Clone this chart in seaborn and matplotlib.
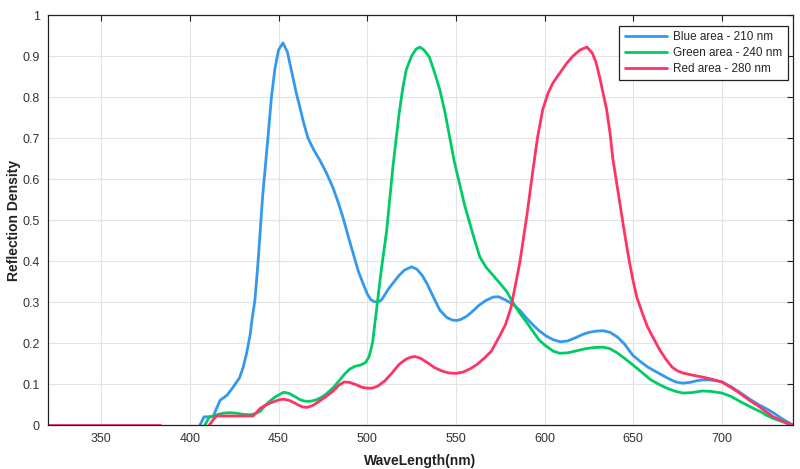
import numpy as np
import pandas as pd
import matplotlib
matplotlib.use("Agg")
import matplotlib.pyplot as plt
from matplotlib.ticker import FuncFormatter, MultipleLocator
import seaborn as sns

# ---------------- data ----------------
blue_wl = [405.7, 408, 413, 415, 417, 421, 424, 428, 430, 432, 434, 435, 436.7, 438.4, 441, 444, 446,
           448, 450, 452.5, 455, 458, 460, 462, 464, 466.6, 470, 473.3, 477, 480.6, 483.5, 486.3,
           489, 492, 495, 497.6, 500, 502, 504, 506, 508, 510, 512, 514.5, 518, 521, 525, 528, 531,
           533.6, 537, 541, 545, 548, 550.6, 553, 556, 559.6, 563, 567, 571, 574, 578, 582, 586,
           590, 594, 597, 601, 605, 609, 613, 617, 621, 625, 629, 633, 637, 641, 645, 649.8, 654,
           658, 662, 665, 670, 674, 678, 682, 686, 689, 693, 697, 700, 705, 710, 715, 721, 725,
           729, 733, 736, 738, 740]
blue_val = [0, 0.02, 0.02, 0.04, 0.06, 0.073, 0.09, 0.115, 0.14, 0.175, 0.22, 0.256, 0.305, 0.395,
            0.556, 0.70, 0.80, 0.87, 0.915, 0.932, 0.91, 0.85, 0.81, 0.776, 0.74, 0.70, 0.67, 0.646,
            0.615, 0.58, 0.545, 0.507, 0.465, 0.42, 0.375, 0.346, 0.32, 0.306, 0.301, 0.30, 0.305,
            0.318, 0.332, 0.346, 0.365, 0.378, 0.386, 0.38, 0.365, 0.346, 0.315, 0.28, 0.262, 0.256,
            0.255, 0.258, 0.265, 0.278, 0.292, 0.304, 0.312, 0.313, 0.305, 0.295, 0.28, 0.26, 0.242,
            0.23, 0.217, 0.208, 0.203, 0.205, 0.212, 0.22, 0.226, 0.229, 0.23, 0.226, 0.215, 0.198,
            0.17, 0.155, 0.142, 0.132, 0.125, 0.113, 0.105, 0.102, 0.104, 0.108, 0.11, 0.11, 0.108,
            0.105, 0.094, 0.08, 0.065, 0.049, 0.04, 0.03, 0.018, 0.01, 0.005, 0.0]

green_wl = [408.5, 411, 413, 416, 419, 422.6, 426, 430, 433.9, 437, 439.5, 442, 445, 448, 450.8, 453,
            456, 459, 462, 465, 468, 471, 474, 477, 481, 484, 487, 490, 493, 496, 499, 501, 503,
            505.5, 508, 511, 514.5, 518, 520, 522, 525, 527.5, 529.7, 532, 535, 538, 541, 544,
            546.6, 549, 552, 555, 558, 561, 563.5, 567, 571, 575, 578.8, 582, 586, 590, 594, 597,
            601, 605, 608.6, 613, 618, 623, 628, 633, 637, 641, 645, 650, 655, 660, 665, 670, 674,
            678, 683, 689, 694, 700, 705, 710, 714, 718, 722, 725, 729, 733, 736, 738, 740]
green_val = [0, 0.02, 0.022, 0.026, 0.029, 0.03, 0.029, 0.026, 0.025, 0.028, 0.033, 0.045, 0.058,
             0.068, 0.075, 0.08, 0.077, 0.07, 0.062, 0.058, 0.058, 0.061, 0.067, 0.076, 0.092,
             0.107, 0.123, 0.136, 0.143, 0.146, 0.152, 0.166, 0.2, 0.29, 0.38, 0.475, 0.63, 0.76,
             0.82, 0.866, 0.9, 0.917, 0.922, 0.915, 0.898, 0.86, 0.817, 0.76, 0.70, 0.645, 0.59,
             0.535, 0.49, 0.445, 0.41, 0.385, 0.365, 0.345, 0.325, 0.3, 0.273, 0.25, 0.225, 0.207,
             0.192, 0.18, 0.175, 0.176, 0.181, 0.186, 0.189, 0.19, 0.186, 0.176, 0.163, 0.146,
             0.128, 0.11, 0.098, 0.088, 0.082, 0.078, 0.079, 0.083, 0.082, 0.078, 0.07, 0.058,
             0.049, 0.04, 0.032, 0.024, 0.016, 0.01, 0.005, 0.002, 0]

red_base_wl = [320, 383]
red_base_val = [0, 0]
red_wl = [411, 413, 415, 420, 425, 430, 435.6, 437.5, 439.5, 442, 445, 448, 450.8, 453, 456, 459,
          461, 463.7, 466, 469, 472, 476, 480.6, 484, 487, 490, 494, 497, 500, 503, 506, 510, 514,
          518, 522, 525, 527, 530, 534, 538, 542, 546, 550, 554, 558, 562, 566, 570, 574.8, 578,
          581, 586, 590, 593.4, 596, 599, 602, 604.7, 608, 612.6, 616, 620, 623.9, 627, 629, 631,
          633, 635, 637, 638.5, 640.5, 642.5, 644.5, 646.4, 648, 649.8, 652, 655.4, 658, 661, 665,
          668.5, 672, 675, 678, 683, 689, 694, 700, 705, 710, 715, 721, 725, 729, 733, 736, 738, 740]
red_val = [0, 0.012, 0.022, 0.022, 0.022, 0.022, 0.022, 0.03, 0.04, 0.047, 0.053, 0.058, 0.062,
           0.063, 0.06, 0.054, 0.049, 0.044, 0.043, 0.047, 0.055, 0.067, 0.082, 0.097, 0.105,
           0.104, 0.098, 0.092, 0.09, 0.09, 0.095, 0.108, 0.127, 0.148, 0.161, 0.166, 0.167, 0.163,
           0.152, 0.14, 0.132, 0.127, 0.126, 0.129, 0.137, 0.148, 0.163, 0.18, 0.218, 0.245, 0.285,
           0.395, 0.51, 0.62, 0.70, 0.77, 0.81, 0.834, 0.855, 0.883, 0.9, 0.915, 0.922, 0.907,
           0.885, 0.85, 0.81, 0.77, 0.71, 0.65, 0.595, 0.54, 0.485, 0.435, 0.395, 0.355, 0.312,
           0.27, 0.24, 0.215, 0.183, 0.16, 0.141, 0.132, 0.127, 0.122, 0.117, 0.112, 0.105, 0.092,
           0.078, 0.062, 0.045, 0.032, 0.02, 0.012, 0.006, 0.003, 0]

labels = ["Blue area - 210 nm", "Green area - 240 nm", "Red area - 280 nm"]
colors = ["#3399EE", "#00CC66", "#FF3366"]
x_ticks = [350, 400, 450, 500, 550, 600, 650, 700]

# ---------------- build long table ----------------
frames = [
    pd.DataFrame({"wl": blue_wl, "val": blue_val, "series": labels[0], "seg": 0}),
    pd.DataFrame({"wl": green_wl, "val": green_val, "series": labels[1], "seg": 0}),
    pd.DataFrame({"wl": red_base_wl, "val": red_base_val, "series": labels[2], "seg": 1}),
    pd.DataFrame({"wl": red_wl, "val": red_val, "series": labels[2], "seg": 0}),
]
df = pd.concat(frames, ignore_index=True)

sns.set_style("white")
plt.rcParams["font.family"] = ["Liberation Sans", "DejaVu Sans"]

fig = plt.figure(figsize=(8, 4.69), dpi=100)
ax = fig.add_axes([0.06, 0.0938, 0.931, 0.874])

sns.lineplot(data=df, x="wl", y="val", hue="series", units="seg", estimator=None,
             palette=dict(zip(labels, colors)), hue_order=labels, linewidth=2.0, ax=ax,
             sort=True)

ax.set_xlim(320, 740)
ax.set_ylim(0, 1)
ax.set_xticks(x_ticks)
ax.yaxis.set_major_locator(MultipleLocator(0.1))
ax.yaxis.set_major_formatter(FuncFormatter(lambda v, p: f"{v:g}"))
ax.grid(True, color="#e3e3e3", linewidth=0.8)
ax.set_axisbelow(True)
for s in ax.spines.values():
    s.set_visible(True)
    s.set_color("#222222")
    s.set_linewidth(0.9)
ax.tick_params(direction="in", length=4, width=0.8, top=True, right=True,
               labelsize=9, colors="#222222", labelcolor="#333333", pad=6)
ax.set_xlabel("WaveLength(nm)", fontsize=10, fontweight="bold", color="#222222", labelpad=6)
ax.set_ylabel("Reflection Density", fontsize=10, fontweight="bold", color="#222222", labelpad=1)

leg = ax.legend(loc="upper right", bbox_to_anchor=(0.993, 0.973), fontsize=8.5,
                frameon=True, fancybox=False, handlelength=3.6, borderpad=0.45,
                labelspacing=0.32, handletextpad=0.5, borderaxespad=0.0)
leg.get_frame().set_edgecolor("#222222")
leg.get_frame().set_linewidth(0.9)
leg.get_frame().set_alpha(1)
for line in leg.get_lines():
    line.set_linewidth(2.0)

fig.savefig("out.png", dpi=100)
